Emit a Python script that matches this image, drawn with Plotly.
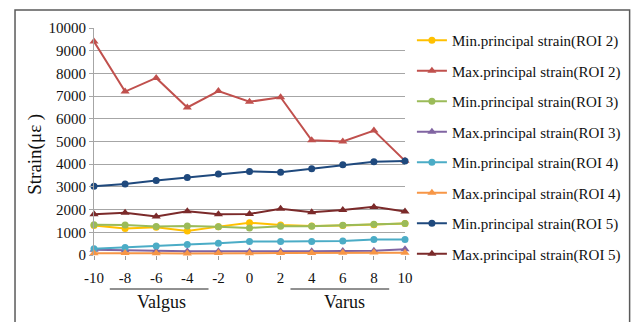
import plotly.graph_objects as go

# Knee angle (degrees): negative = valgus, positive = varus
angles = [-10, -8, -6, -4, -2, 0, 2, 4, 6, 8, 10]
tick_labels = ["-10", "-8", "-6", "-4", "-2", "0", "2", "4", "6", "8", "10"]
y_ticks = [0, 1000, 2000, 3000, 4000, 5000, 6000, 7000, 8000, 9000, 10000]

# Principal strain values (microstrain)
min_roi2 = [1300, 1170, 1220, 1060, 1250, 1420, 1320, 1280, 1300, 1330, 1390]
max_roi2 = [9400, 7200, 7800, 6500, 7220, 6750, 6950, 5050, 5000, 5480, 4150]
min_roi3 = [1330, 1320, 1260, 1280, 1240, 1190, 1270, 1270, 1310, 1360, 1390]
max_roi3 = [230, 200, 180, 170, 160, 150, 160, 160, 180, 190, 250]
min_roi4 = [280, 330, 400, 460, 520, 590, 590, 590, 620, 680, 680]
max_roi4 = [80, 90, 80, 70, 90, 80, 90, 90, 100, 110, 100]
min_roi5 = [3030, 3130, 3280, 3410, 3570, 3680, 3650, 3800, 3980, 4110, 4140]
max_roi5 = [1790, 1860, 1700, 1930, 1800, 1810, 2040, 1880, 1980, 2120, 1920]

series = [
    ("Min.principal strain(ROI 2)", min_roi2, "#FFC000", "circle"),
    ("Max.principal strain(ROI 2)", max_roi2, "#C0504D", "triangle-up"),
    ("Min.principal strain(ROI 3)", min_roi3, "#9BBB59", "circle"),
    ("Max.principal strain(ROI 3)", max_roi3, "#8064A2", "triangle-up"),
    ("Min.principal strain(ROI 4)", min_roi4, "#4BACC6", "circle"),
    ("Max.principal strain(ROI 4)", max_roi4, "#F79646", "triangle-up"),
    ("Min.principal strain(ROI 5)", min_roi5, "#1F497D", "circle"),
    ("Max.principal strain(ROI 5)", max_roi5, "#7B2A2A", "triangle-up"),
]

FONT = "Liberation Serif"
W, H = 638, 322
L, R, T, B = 94, 229, 28, 67
pw, ph = W - L - R, H - T - B


def px_x(x):
    return (x - L) / pw


def px_y(y):
    return (H - B - y) / ph


fig = go.Figure()
for i, (name, vals, color, sym) in enumerate(series):
    fig.add_trace(go.Scatter(
        x=angles, y=vals, name=name, mode="lines+markers",
        line=dict(color=color, width=2),
        marker=dict(symbol=sym, size=7 if sym == "circle" else 8, color=color),
        cliponaxis=False, legendgroup=f"g{i}",
    ))

shapes = [
    # outer frame
    dict(type="rect", xref="paper", yref="paper",
         x0=px_x(14), x1=px_x(636.5), y0=px_y(10), y1=px_y(340),
         line=dict(color="#5A5A5A", width=1.5)),
    # group underlines
    dict(type="line", xref="paper", yref="paper",
         x0=px_x(110), x1=px_x(210), y0=px_y(289), y1=px_y(289),
         line=dict(color="#222", width=1)),
    dict(type="line", xref="paper", yref="paper",
         x0=px_x(293), x1=px_x(393), y0=px_y(289), y1=px_y(289),
         line=dict(color="#222", width=1)),
]

annotations = [
    dict(text="Valgus", xref="paper", yref="paper", x=px_x(162), y=px_y(302),
         xanchor="center", yanchor="middle",
         showarrow=False, font=dict(family=FONT, size=18, color="#111")),
    dict(text="Varus", xref="paper", yref="paper", x=px_x(348), y=px_y(302),
         xanchor="center", yanchor="middle",
         showarrow=False, font=dict(family=FONT, size=18, color="#111")),
    dict(text="Strain(με )", xref="paper", yref="paper", x=px_x(34), y=px_y(154),
         xanchor="center", yanchor="middle",
         textangle=-90, showarrow=False, font=dict(family=FONT, size=19, color="#111")),
]

fig.update_layout(
    width=W, height=H,
    margin=dict(l=L, r=R, t=T, b=B),
    paper_bgcolor="white", plot_bgcolor="white",
    font=dict(family=FONT, size=15, color="#111"),
    shapes=shapes, annotations=annotations,
    legend=dict(
        x=px_x(416), y=px_y(24), xanchor="left", yanchor="top",
        traceorder="grouped", tracegroupgap=8, maxheight=1,
        font=dict(family=FONT, size=15, color="#111"),
        itemwidth=30, bgcolor="rgba(0,0,0,0)",
    ),
    xaxis=dict(
        range=[-10, 10], tickvals=angles, ticktext=tick_labels,
        showgrid=False, zeroline=False, showline=False,
        ticks="outside", ticklen=4, tickcolor="#999",
        ticklabelstandoff=5,
        tickfont=dict(family=FONT, size=15, color="#111"),
    ),
    yaxis=dict(
        range=[0, 10000], tickvals=y_ticks, ticktext=[str(v) for v in y_ticks],
        showgrid=True, gridcolor="#A6A6A6", gridwidth=1.2,
        zeroline=False, showline=True, linecolor="#A6A6A6", linewidth=1.2,
        ticks="outside", ticklen=4, tickcolor="#A6A6A6",
        tickfont=dict(family=FONT, size=15, color="#111"),
    ),
)

fig.write_html("out.html")
